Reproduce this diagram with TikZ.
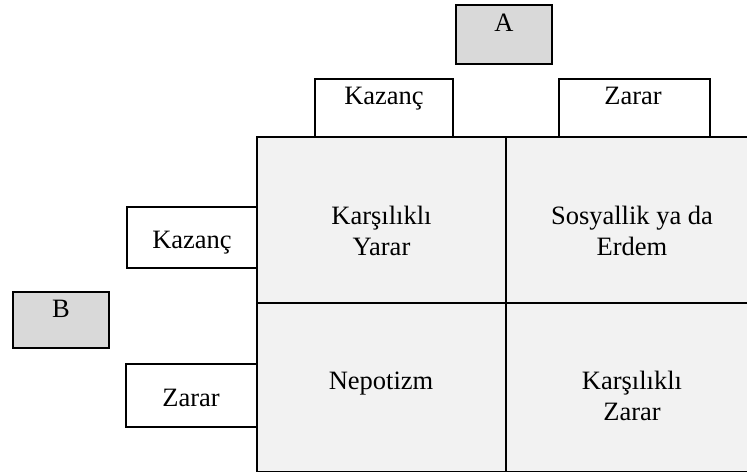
\documentclass[tikz,border=0pt]{standalone}
\usepackage{fontspec}
\setmainfont{Liberation Serif}
\definecolor{cellgray}{HTML}{F2F2F2}
\definecolor{headgray}{HTML}{D9D9D9}
\begin{document}
\begin{tikzpicture}[x=1pt,y=-1pt,
  every node/.style={font=\fontsize{26.5}{30.7}\selectfont},
  box/.style={draw=black,line width=1.8pt,anchor=north west,inner sep=0pt,outer sep=0pt},
  label/.style={anchor=base,inner sep=0pt,align=center}]
\useasboundingbox (0,0) rectangle (747,473);
\begin{scope}
\clip (0,0) rectangle (747,473);
% payoff grid
\node[box,fill=cellgray,minimum width=249pt,minimum height=166pt] (c11) at (257,137) {};
\node[box,fill=cellgray,minimum width=251pt,minimum height=166pt] (c12) at (506,137) {};
\node[box,fill=cellgray,minimum width=249pt,minimum height=168.5pt] (c21) at (257,303) {};
\node[box,fill=cellgray,minimum width=251pt,minimum height=168.5pt] (c22) at (506,303) {};
\end{scope}
% player A and its options
\node[box,fill=headgray,minimum width=96pt,minimum height=59pt] (A) at (456,5) {};
\node[box,minimum width=138pt,minimum height=58pt] (AK) at (315,79) {};
\node[box,minimum width=151pt,minimum height=58pt] (AZ) at (559,79) {};
% player B and its options
\node[box,fill=headgray,minimum width=96pt,minimum height=56pt] (B) at (13,292) {};
\node[box,minimum width=130pt,minimum height=61pt] (BK) at (127,207) {};
\node[box,minimum width=131pt,minimum height=63pt] (BZ) at (126,364) {};
% labels (two-line labels are anchored on the baseline of their last line)
\node[label] (tA) at (504,32) {A};
\node[label] (tAK) at (384,105) {Kazanç};
\node[label] (tAZ) at (633,105) {Zarar};
\node[label] (tB) at (61,317) {B};
\node[label] (tBK) at (192,248) {Kazanç};
\node[label] (tBZ) at (191,406) {Zarar};
\node[label] (t11) at (381.5,255) {Karşılıklı\\Yarar};
\node[label] (t12) at (632,255) {Sosyallik ya da\\Erdem};
\node[label] (t21) at (381,389) {Nepotizm};
\node[label] (t22) at (632,420) {Karşılıklı\\Zarar};
\end{tikzpicture}
\end{document}
